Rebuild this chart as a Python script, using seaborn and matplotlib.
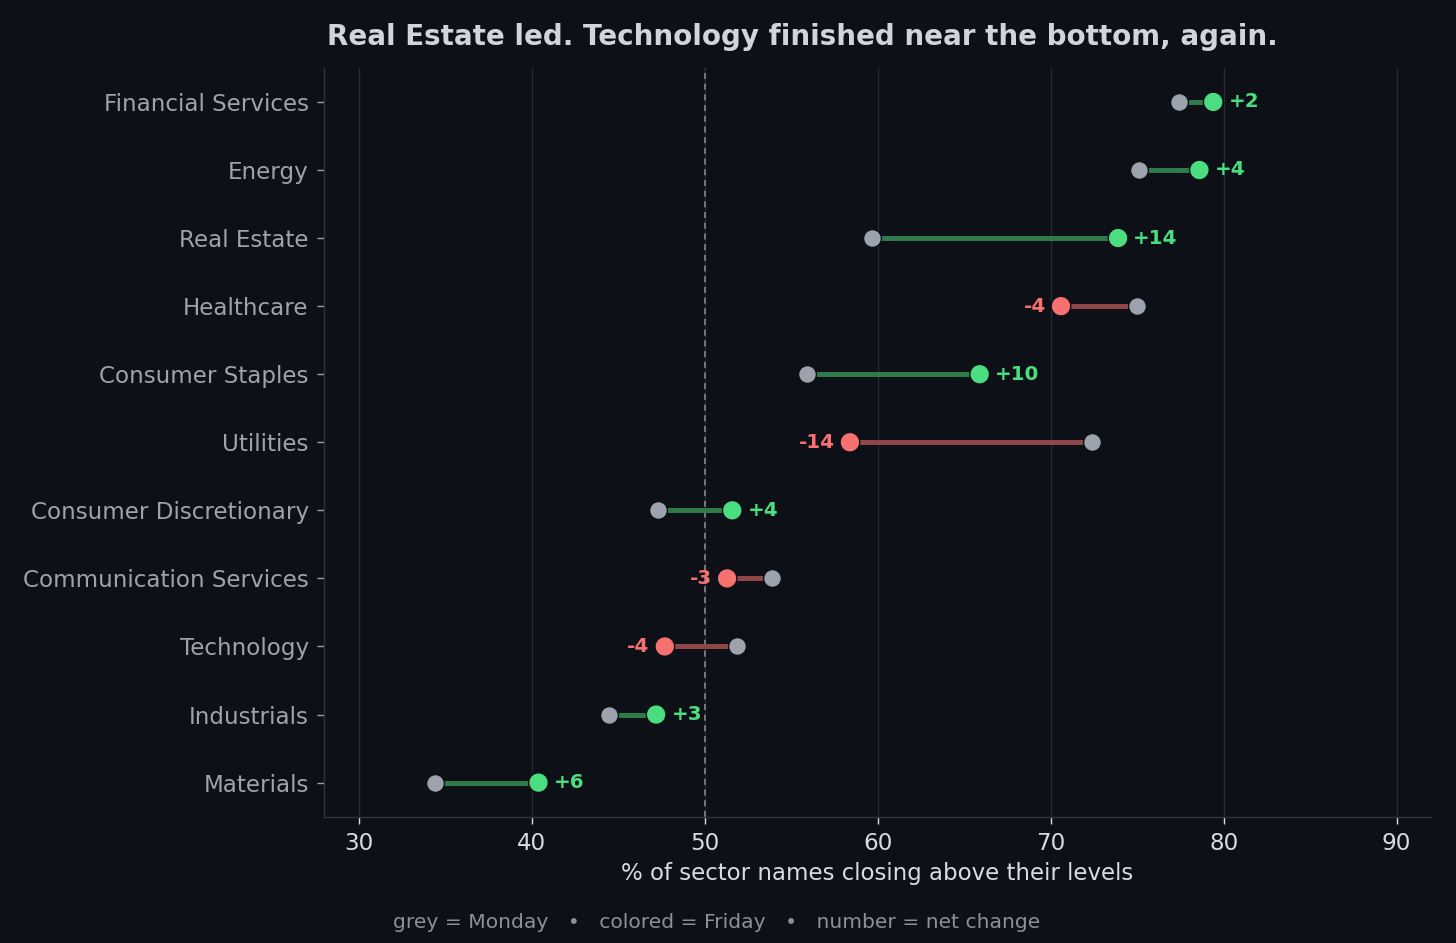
import pandas as pd
import matplotlib.pyplot as plt
import seaborn as sns

# data
sectors = ['Financial Services', 'Energy', 'Real Estate', 'Healthcare', 'Consumer Staples',
           'Utilities', 'Consumer Discretionary', 'Communication Services', 'Technology',
           'Industrials', 'Materials']
monday = [77.4, 75.1, 59.7, 75.0, 55.9, 72.4, 47.3, 53.9, 51.9, 44.5, 34.4]
friday = [79.4, 78.6, 73.9, 70.6, 65.9, 58.4, 51.6, 51.3, 47.7, 47.2, 40.4]
changes = [2, 4, 14, -4, 10, -14, 4, -3, -4, 3, 6]

bg = '#0d1017'
green = '#4ade80'
red = '#f87171'
grey = '#9ca3af'

df = pd.DataFrame({'sector': sectors, 'monday': monday, 'friday': friday, 'change': changes})
df['pos'] = range(len(df))
df['dir'] = ['up' if c >= 0 else 'down' for c in df['change']]

sns.set_theme(style='dark')
plt.rcParams['font.family'] = ['DejaVu Sans']

fig, ax = plt.subplots(figsize=(14.56, 9.43), dpi=100)
fig.patch.set_facecolor(bg)
ax.set_facecolor(bg)

# connecting segments
for _, r in df.iterrows():
    c = '#2e7a4b' if r['dir'] == 'up' else '#8e4649'
    ax.hlines(r['pos'], r['monday'], r['friday'], color=c, lw=3.6, zorder=2)

sns.scatterplot(data=df, x='monday', y='pos', color=grey, s=165, edgecolor=bg,
                linewidth=1, zorder=3, ax=ax)
sns.scatterplot(data=df, x='friday', y='pos', hue='dir', palette={'up': green, 'down': red},
                s=200, edgecolor=bg, linewidth=1, zorder=4, legend=False, ax=ax)

for _, r in df.iterrows():
    if r['change'] >= 0:
        ax.annotate(f"+{r['change']}", (r['friday'], r['pos']), xytext=(11, 0),
                    textcoords='offset points', ha='left', va='center',
                    color=green, fontsize=14.3, fontweight='bold')
    else:
        ax.annotate(f"{r['change']}", (r['friday'], r['pos']), xytext=(-11, 0),
                    textcoords='offset points', ha='right', va='center',
                    color=red, fontsize=14.3, fontweight='bold')

ax.axvline(50, color='#8a8f99', lw=1.1, ls=(0, (4, 3)), zorder=1)

ax.set_xlim(28, 92)
ax.set_ylim(10.5, -0.5)
ax.set_xticks([30, 40, 50, 60, 70, 80, 90])
ax.set_yticks(df['pos'])
ax.set_yticklabels(sectors)
ax.grid(axis='x', color='#262a33', lw=0.9)
ax.grid(axis='y', visible=False)
ax.set_axisbelow(True)

ax.tick_params(axis='y', colors=grey, labelsize=16.6, length=5, width=1, left=True, pad=6)
ax.tick_params(axis='x', colors='#d8dbe0', labelsize=16.6, length=5, width=1, bottom=True, pad=6)
ax.tick_params(axis='y', labelcolor='#9ea3ab')
for s in ['top', 'right']:
    ax.spines[s].set_visible(False)
for s in ['left', 'bottom']:
    ax.spines[s].set_color('#30343c')
    ax.spines[s].set_linewidth(1)

ax.set_xlabel('% of sector names closing above their levels', color='#d8dbe0', fontsize=16.5, labelpad=5)
ax.set_ylabel('')
fig.text(0.551, 0.961, 'Real Estate led. Technology finished near the bottom, again.',
         ha='center', va='center', color='#d0d4dc', fontsize=20, fontweight='bold')

fig.text(0.492, 0.022, 'grey = Monday   \u2022   colored = Friday   \u2022   number = net change',
         ha='center', va='center', color='#8b9099', fontsize=14.6)

plt.subplots_adjust(left=0.2225, right=0.983, top=0.928, bottom=0.134)
fig.savefig('out.png', dpi=100, facecolor=bg)
